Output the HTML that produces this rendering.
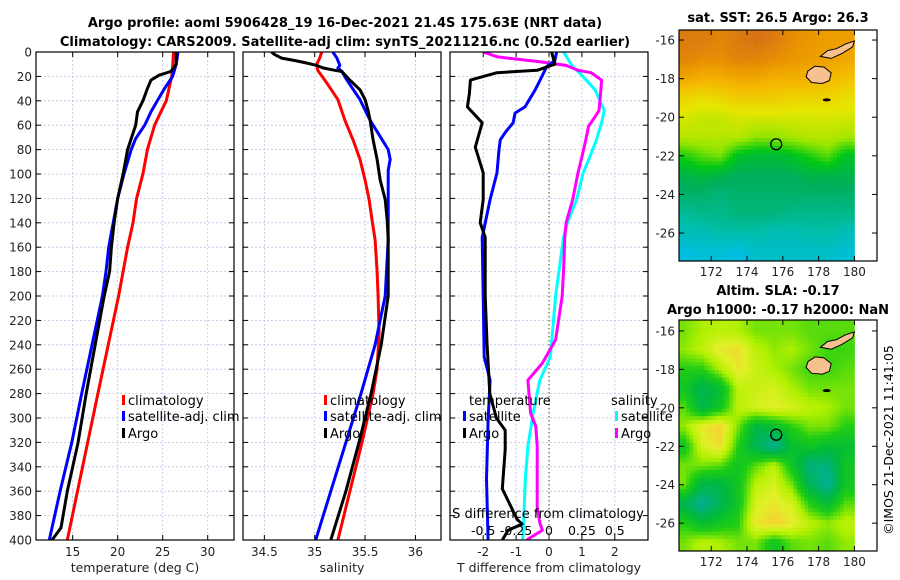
<!DOCTYPE html>
<html><head><meta charset="utf-8"><style>
html,body{margin:0;padding:0;background:#fff;}
svg{display:block;font-family:"DejaVu Sans","Liberation Sans",sans-serif;}
</style></head><body>
<svg id="fig" width="900" height="580" viewBox="0 0 900 580" xmlns="http://www.w3.org/2000/svg">
<text x="345" y="27" font-size="13" font-weight="bold" text-anchor="middle">Argo profile: aoml 5906428_19 16-Dec-2021 21.4S 175.63E (NRT data)</text>
<text x="345" y="46" font-size="13" font-weight="bold" text-anchor="middle">Climatology: CARS2009. Satellite-adj clim: synTS_20211216.nc (0.52d earlier)</text>
<g id="p1"></g>
<g id="p2"></g>
<g id="p3"></g>
<g id="m1"></g>
<g id="m2"></g>
<text x="778" y="22" font-size="13" font-weight="bold" text-anchor="middle">sat. SST: 26.5 Argo: 26.3</text>
<text x="778" y="295" font-size="13" font-weight="bold" text-anchor="middle">Altim. SLA: -0.17</text>
<text x="778" y="314" font-size="13" font-weight="bold" text-anchor="middle">Argo h1000: -0.17 h2000: NaN</text>
<text x="0" y="0" font-size="12.5" text-anchor="middle" transform="translate(893,440) rotate(-90)">©IMOS 21-Dec-2021 11:41:05</text>
</svg>
<script>
// ---- profile data (pressure in dbar) ----
const pressureTicks = [0,20,40,60,80,100,120,140,160,180,200,220,240,260,280,300,320,340,360,380,400];
// Temperature panel
const tempClimP = [0,13,20,40,49,60,80,100,120,140,160,180,200,280,400];
const tempClim  = [26.2,26.1,26.0,25.4,24.8,24.1,23.3,22.8,22.1,21.7,21.1,20.6,20.1,17.8,14.4];
const tempSatP = [0,10,20,30,40,49,60,71,80,100,120,140,160,180,200,280,320,360,400];
const tempSat  = [26.7,26.5,26.1,25.2,24.4,23.7,23.0,22.0,21.5,20.7,20.0,19.5,19.0,18.7,18.3,16.0,14.9,13.6,12.4];
const tempArgoP = [0,10,16,19,23,30,40,49,60,71,80,100,120,140,160,180,200,280,320,360,390,400];
const tempArgo  = [26.5,26.5,25.9,24.6,23.7,23.3,22.8,22.2,22.0,21.5,21.1,20.6,20.0,19.6,19.3,19.1,18.5,16.5,15.6,14.4,13.7,12.7];
const tempTicks = [15,20,25,30];
// Salinity panel
const salClimP = [0,5,10,15,23,39,56,72,88,105,121,138,154,180,200,230,260,280,320,360,400];
const salClim  = [35.07,35.05,35.02,35.03,35.10,35.23,35.30,35.38,35.45,35.50,35.54,35.57,35.60,35.62,35.63,35.64,35.62,35.58,35.47,35.35,35.23];
const salSatP = [0,5,11,13,16,23,39,56,72,80,88,97,121,154,200,240,280,320,360,400];
const salSat  = [35.18,35.22,35.25,35.23,35.27,35.32,35.45,35.55,35.67,35.73,35.75,35.73,35.73,35.73,35.70,35.60,35.46,35.31,35.16,35.01];
const salArgoP = [0,2,5,7,9,11,13,15,16,23,31,39,48,56,72,88,105,121,138,154,200,240,280,320,360,400];
const salArgo  = [34.57,34.60,34.67,34.80,34.92,35.02,35.08,35.20,35.27,35.35,35.45,35.50,35.53,35.55,35.58,35.62,35.65,35.70,35.72,35.73,35.73,35.66,35.56,35.44,35.31,35.16];
const salTicks = [34.5,35,35.5,36];
// Difference panel
const dTArgoP = [0,10,15,17,23,34,45,58,78,99,121,140,152,200,240,280,300,310,326,358,383,387,392,400];
const dTArgo  = [0.08,0.18,-0.36,-1.58,-2.39,-2.42,-2.48,-2.03,-2.24,-2.0,-2.0,-2.09,-1.94,-1.94,-1.88,-1.8,-1.6,-1.33,-1.33,-1.42,-0.97,-0.82,-1.24,-1.42];
const dTSatP = [0,7,12,23,31,45,50,58,66,72,80,99,121,152,200,250,269,302,350,400];
const dTSat  = [0.23,0.18,-0.07,-0.27,-0.42,-0.73,-1.03,-1.09,-1.33,-1.48,-1.52,-1.58,-1.79,-2.03,-2.0,-1.97,-1.79,-1.85,-1.9,-1.85];
const dSArgoP = [0,4,8,11,15,17,23,37,48,53,61,72,86,99,121,140,152,180,200,236,255,269,296,307,323,373,386,392,400];
const dSArgo  = [-0.5,-0.39,-0.07,0.13,0.22,0.32,0.40,0.39,0.38,0.35,0.30,0.28,0.25,0.22,0.18,0.13,0.12,0.11,0.1,0.05,-0.05,-0.16,-0.14,-0.1,-0.09,-0.09,-0.07,-0.05,-0.17];
const dSSatP = [0,12,17,31,48,58,72,86,99,121,140,152,200,250,269,296,323,350,378,400];
const dSSat  = [0.11,0.18,0.23,0.35,0.42,0.40,0.36,0.31,0.26,0.21,0.14,0.11,0.05,0.01,-0.07,-0.12,-0.16,-0.18,-0.19,-0.2];
const dTTicks = [-2,-1,0,1,2];
const dSTicks = [-0.5,-0.25,0,0.25,0.5];
const dSTickLabels = ["-0.5","-0.25","0","0.25","0.5"];
// Map grids: rows lat -16..-27, cols lon 170.5..179.5
const mapLats = [-16,-17,-18,-19,-20,-21,-22,-23,-24,-25,-26,-27];
const mapLons = [170.5,171.5,172.5,173.5,174.5,175.5,176.5,177.5,178.5,179.5];
const sstGrid = [
[27.6,27.6,27.5,27.6,27.7,27.6,27.4,27.3,27.2,27.2],
[27.5,27.4,27.4,27.5,27.5,27.4,27.3,27.2,27.2,27.1],
[27.1,27.0,27.0,27.1,27.1,27.0,27.0,27.0,26.9,26.8],
[26.6,26.5,26.6,26.7,26.7,26.7,26.6,26.6,26.6,26.5],
[26.3,26.2,26.2,26.3,26.3,26.3,26.3,26.3,26.3,26.3],
[26.1,26.1,26.1,26.1,25.9,25.9,26.0,26.1,26.1,26.0],
[25.5,25.7,25.8,25.3,25.2,25.2,25.3,25.5,25.7,25.3],
[25.1,25.2,25.1,25.0,25.0,25.0,25.0,25.1,25.1,25.1],
[24.9,24.9,24.8,24.9,24.9,24.9,24.9,24.9,24.9,24.9],
[24.6,24.7,24.7,24.8,24.8,24.8,24.7,24.7,24.7,24.7],
[24.4,24.4,24.5,24.5,24.5,24.4,24.4,24.5,24.5,24.4],
[24.1,24.2,24.2,24.1,24.3,24.3,24.3,24.3,24.3,24.2]];
const slaGrid = [
[-0.05,-0.03,-0.02,-0.03,-0.05,-0.05,-0.05,-0.06,-0.06,-0.06],
[-0.04,-0.02,0.02,0.03,-0.02,-0.04,-0.03,-0.05,-0.07,-0.07],
[-0.08,-0.08,-0.03,0.02,-0.01,-0.03,-0.05,-0.07,-0.07,-0.06],
[-0.10,-0.15,-0.12,-0.02,-0.01,0.00,-0.03,-0.05,-0.05,-0.05],
[-0.06,-0.14,-0.10,-0.02,0.00,0.01,0.00,-0.02,-0.03,-0.05],
[-0.04,0.02,0.04,-0.05,-0.14,-0.12,-0.08,-0.05,-0.05,-0.08],
[-0.10,0.00,0.03,-0.08,-0.15,-0.20,-0.12,-0.10,-0.12,-0.12],
[-0.05,-0.05,-0.06,-0.10,-0.06,-0.02,-0.10,-0.18,-0.18,-0.10],
[-0.05,-0.14,-0.14,-0.10,-0.02,0.00,-0.05,-0.15,-0.20,-0.10],
[-0.15,-0.20,-0.15,-0.10,0.00,0.02,0.00,-0.08,-0.12,-0.06],
[-0.08,-0.12,-0.10,-0.08,0.02,0.04,0.02,-0.02,-0.04,-0.02],
[-0.05,-0.02,-0.03,-0.05,-0.05,-0.10,-0.06,-0.05,-0.06,-0.04]];
const lonTicks = [172,174,176,178,180];
const latTicks = [-16,-18,-20,-22,-24,-26];
const argoLon = 175.63, argoLat = -21.4;

const NS="http://www.w3.org/2000/svg";
function el(parent,tag,attrs,text){const e=document.createElementNS(NS,tag);for(const k in attrs)e.setAttribute(k,attrs[k]);if(text!==undefined)e.textContent=text;parent.appendChild(e);return e;}
const yP = p => 52 + p*1.22;
const PT=52, PB=540;

function panel(g,x0,x1,xs,ticks,tickLabels,yLabels,xTitle,name){
  for(const p of pressureTicks){ if(p===0||p===400) continue;
    const l=el(g,'line',{x1:x0,x2:x1,y1:yP(p),y2:yP(p),stroke:'#b8c4e6','stroke-width':0.8,'stroke-dasharray':'2,2'});
     
    const t1=el(g,'line',{x1:x0,x2:x0+5,y1:yP(p),y2:yP(p),stroke:'#000'});
     
    const t2=el(g,'line',{x1:x1-5,x2:x1,y1:yP(p),y2:yP(p),stroke:'#000'});
     
  }
  if(yLabels){ for(const p of pressureTicks){
    const t=el(g,'text',{x:x0-4,y:yP(p)+4.5,'font-size':12,'text-anchor':'end',fill:'#222'},String(p));
     }}
  ticks.forEach((v,i)=>{const x=xs(v);
    if(v!==0||name!=='diff'){const l=el(g,'line',{x1:x,x2:x,y1:PT,y2:PB,stroke:'#b8c4e6','stroke-width':0.8,'stroke-dasharray':'2,2'});
     }
    const a=el(g,'line',{x1:x,x2:x,y1:PB-5,y2:PB,stroke:'#000'});  
    const b=el(g,'line',{x1:x,x2:x,y1:PT,y2:PT+5,stroke:'#000'});  
    const t=el(g,'text',{x:x,y:556,'font-size':12,'text-anchor':'middle',fill:'#222'},tickLabels[i]);
     
  });
  const tt=el(g,'text',{x:(x0+x1)/2,y:572,'font-size':12.5,'text-anchor':'middle',fill:'#222'},xTitle);
   
}
function frame(g,x0,x1){const r=el(g,'rect',{x:x0,y:PT,width:x1-x0,height:PB-PT,fill:'none',stroke:'#000','stroke-width':1.2});
   }
function line(g,P,V,xs,color,name,clip){
  const d=P.map((p,i)=>(i?'L':'M')+xs(V[i]).toFixed(1)+','+yP(p).toFixed(1)).join('');
  const e=el(g,'path',{d:d,fill:'none',stroke:color,'stroke-width':3,'stroke-linejoin':'round','clip-path':'url(#'+clip+')'});
   
}
function legend(g,x,y,color,label,name){
  const r=el(g,'rect',{x:x,y:y-10,width:3,height:10,fill:color});  
  const t=el(g,'text',{x:x+6,y:y,'font-size':13,fill:'#000'},label);  
}
const svg=document.getElementById('fig');
const defs=el(svg,'defs',{});
[['c1',36,234],['c2',243,441],['c3',450,648]].forEach(([id,a,b])=>{const c=el(defs,'clipPath',{id:id});el(c,'rect',{x:a,y:PT,width:b-a,height:PB-PT});});

// Panel 1
const g1=document.getElementById('p1');
const xT=v=>72.7+(v-15)*9;
panel(g1,36,234,xT,tempTicks,tempTicks.map(String),true,'temperature (deg C)','temp');
line(g1,tempClimP,tempClim,xT,'#f00','temp-climatology-line','c1');
line(g1,tempSatP,tempSat,xT,'#00f','temp-satellite-line','c1');
line(g1,tempArgoP,tempArgo,xT,'#000','temp-argo-line','c1');
frame(g1,36,234);
legend(g1,122,405,'#f00','climatology','legend-climatology');
legend(g1,122,421,'#00f','satellite-adj. clim','legend-satellite-adj');
legend(g1,122,438,'#000','Argo','legend-argo');

// Panel 2
const g2=document.getElementById('p2');
const xS=v=>314.7+(v-35)*100.7;
panel(g2,243,441,xS,salTicks,salTicks.map(String),false,'salinity','sal');
line(g2,salClimP,salClim,xS,'#f00','sal-climatology-line','c2');
line(g2,salSatP,salSat,xS,'#00f','sal-satellite-line','c2');
line(g2,salArgoP,salArgo,xS,'#000','sal-argo-line','c2');
frame(g2,243,441);
legend(g2,324,405,'#f00','climatology','legend-climatology');
legend(g2,324,421,'#00f','satellite-adj. clim','legend-satellite-adj');
legend(g2,324,438,'#000','Argo','legend-argo');

// Panel 3
const g3=document.getElementById('p3');
const xdT=v=>549+v*32.9;
const xdS=v=>549+v*131.6;
panel(g3,450,648,xdT,dTTicks,dTTicks.map(String),false,'T difference from climatology','diff');
const zl=el(g3,'line',{x1:549,x2:549,y1:PT,y2:PB,stroke:'#556b2f','stroke-width':1.2,'stroke-dasharray':'1.5,2.5'});
 
line(g3,dSSatP,dSSat,xdS,'#00ffff','sal-diff-satellite-line','c3');
line(g3,dSArgoP,dSArgo,xdS,'#ff00ff','sal-diff-argo-line','c3');
line(g3,dTSatP,dTSat,xdT,'#00f','temp-diff-satellite-line','c3');
line(g3,dTArgoP,dTArgo,xdT,'#000','temp-diff-argo-line','c3');
frame(g3,450,648);
let t=el(g3,'text',{x:469,y:405,'font-size':13},'temperature');  
t=el(g3,'text',{x:611,y:405,'font-size':13},'salinity');  
legend(g3,463,421,'#00f','satellite','legend-temp-satellite');
legend(g3,463,438,'#000','Argo','legend-temp-argo');
legend(g3,615,421,'#00ffff','satellite','legend-sal-satellite');
legend(g3,615,438,'#ff00ff','Argo','legend-sal-argo');
t=el(g3,'text',{x:548,y:518,'font-size':13,'text-anchor':'middle'},'S difference from climatology');  
dSTicks.forEach((v,i)=>{const tx=el(g3,'text',{x:xdS(v),y:535,'font-size':12.5,'text-anchor':'middle'},dSTickLabels[i]);
   });

// Maps
function interp(grid,lon,lat){
  let fi=(-16-lat), fj=(lon-170.5);
  fi=Math.max(0,Math.min(11,fi)); fj=Math.max(0,Math.min(9,fj));
  const i0=Math.floor(fi),j0=Math.floor(fj),i1=Math.min(11,i0+1),j1=Math.min(9,j0+1),a=fi-i0,b=fj-j0;
  return grid[i0][j0]*(1-a)*(1-b)+grid[i1][j0]*a*(1-b)+grid[i0][j1]*(1-a)*b+grid[i1][j1]*a*b;
}
function cmap(stops,v){
  if(v<=stops[0][0])return stops[0][1];
  for(let k=1;k<stops.length;k++){if(v<=stops[k][0]){const f=(v-stops[k-1][0])/(stops[k][0]-stops[k-1][0]);
    return stops[k-1][1].map((c,n)=>Math.round(c+(stops[k][1][n]-c)*f));}}
  return stops[stops.length-1][1];
}
const sstStops=[[24.0,[0,190,240]],[24.5,[0,190,170]],[25.0,[0,175,90]],[25.4,[0,200,20]],[25.9,[150,230,0]],[26.4,[230,230,0]],[26.9,[245,185,0]],[27.3,[235,150,0]],[27.7,[215,115,20]]];
const slaStops=[[-0.2,[0,175,150]],[-0.13,[0,185,60]],[-0.08,[30,205,20]],[-0.03,[175,240,0]],[0.01,[225,240,40]],[0.04,[245,210,50]],[0.08,[240,165,60]]];
const vitiLevu=[[177.4,-17.6],[177.8,-17.35],[178.3,-17.4],[178.7,-17.7],[178.6,-18.1],[178.2,-18.25],[177.6,-18.2],[177.3,-17.9]];
const vanuaLevu=[[178.1,-16.85],[178.5,-16.55],[179.0,-16.45],[179.5,-16.2],[180.0,-16.05],[179.9,-16.35],[179.3,-16.7],[178.7,-16.95]];
function drawMap(g,top,bottom,grid,stops,latTop,latBot,name){
  const L=679,R=877,lon0=170.2,lon1=181.26;
  const X=lon=>L+(lon-lon0)*(R-L)/(lon1-lon0);
  const Y=lat=>top+(latTop-lat)*(bottom-top)/(latTop-latBot);
  const step=0.2;
  for(let lat=latTop;lat>latBot-1e-6;lat-=step){
    for(let lon=lon0;lon<180-1e-6;lon+=step){
      const c=cmap(stops,interp(grid,lon+step/2,lat-step/2));
      const x0=X(lon),x1=X(Math.min(180,lon+step)),y0=Y(lat),y1=Y(Math.max(latBot,lat-step));
      const r=el(g,'rect',{x:x0.toFixed(2),y:y0.toFixed(2),width:(x1-x0+0.4).toFixed(2),height:(y1-y0+0.4).toFixed(2),fill:'rgb('+c.join(',')+')'});
       
    }
  }
  [vitiLevu,vanuaLevu].forEach((poly,k)=>{
    const p=el(g,'polygon',{points:poly.map(q=>X(q[0]).toFixed(1)+','+Y(q[1]).toFixed(1)).join(' '),fill:'#f7c18f',stroke:'#000','stroke-width':1});
     
  });
  const blob=el(g,'ellipse',{cx:X(178.45),cy:Y(-19.1),rx:4,ry:1.5,fill:'#000'});  
  const circ=el(g,'circle',{cx:X(argoLon),cy:Y(argoLat),r:5.5,fill:'none',stroke:'#000','stroke-width':1.3});
   
  const fr=el(g,'rect',{x:L,y:top,width:R-L,height:bottom-top,fill:'none',stroke:'#000','stroke-width':1.2});
   
  lonTicks.forEach(v=>{const x=X(v);
    const a=el(g,'line',{x1:x,x2:x,y1:bottom-5,y2:bottom,stroke:'#000'});  
    const b=el(g,'line',{x1:x,x2:x,y1:top,y2:top+5,stroke:'#000'});  
    const t=el(g,'text',{x:x,y:bottom+15,'font-size':12,'text-anchor':'middle',fill:'#222'},String(v));  });
  latTicks.forEach(v=>{const y=Y(v);
    const a=el(g,'line',{x1:L,x2:L+5,y1:y,y2:y,stroke:'#000'});  
    const b=el(g,'line',{x1:R-5,x2:R,y1:y,y2:y,stroke:'#000'});  
    const t=el(g,'text',{x:L-4,y:y+4.5,'font-size':12,'text-anchor':'end',fill:'#222'},String(v));  });
}
drawMap(document.getElementById('m1'),30,261,sstGrid,sstStops,-15.48,-27.45,'sst-map');
drawMap(document.getElementById('m2'),320,551,slaGrid,slaStops,-15.43,-27.45,'sla-map');
</script>
</body></html>
